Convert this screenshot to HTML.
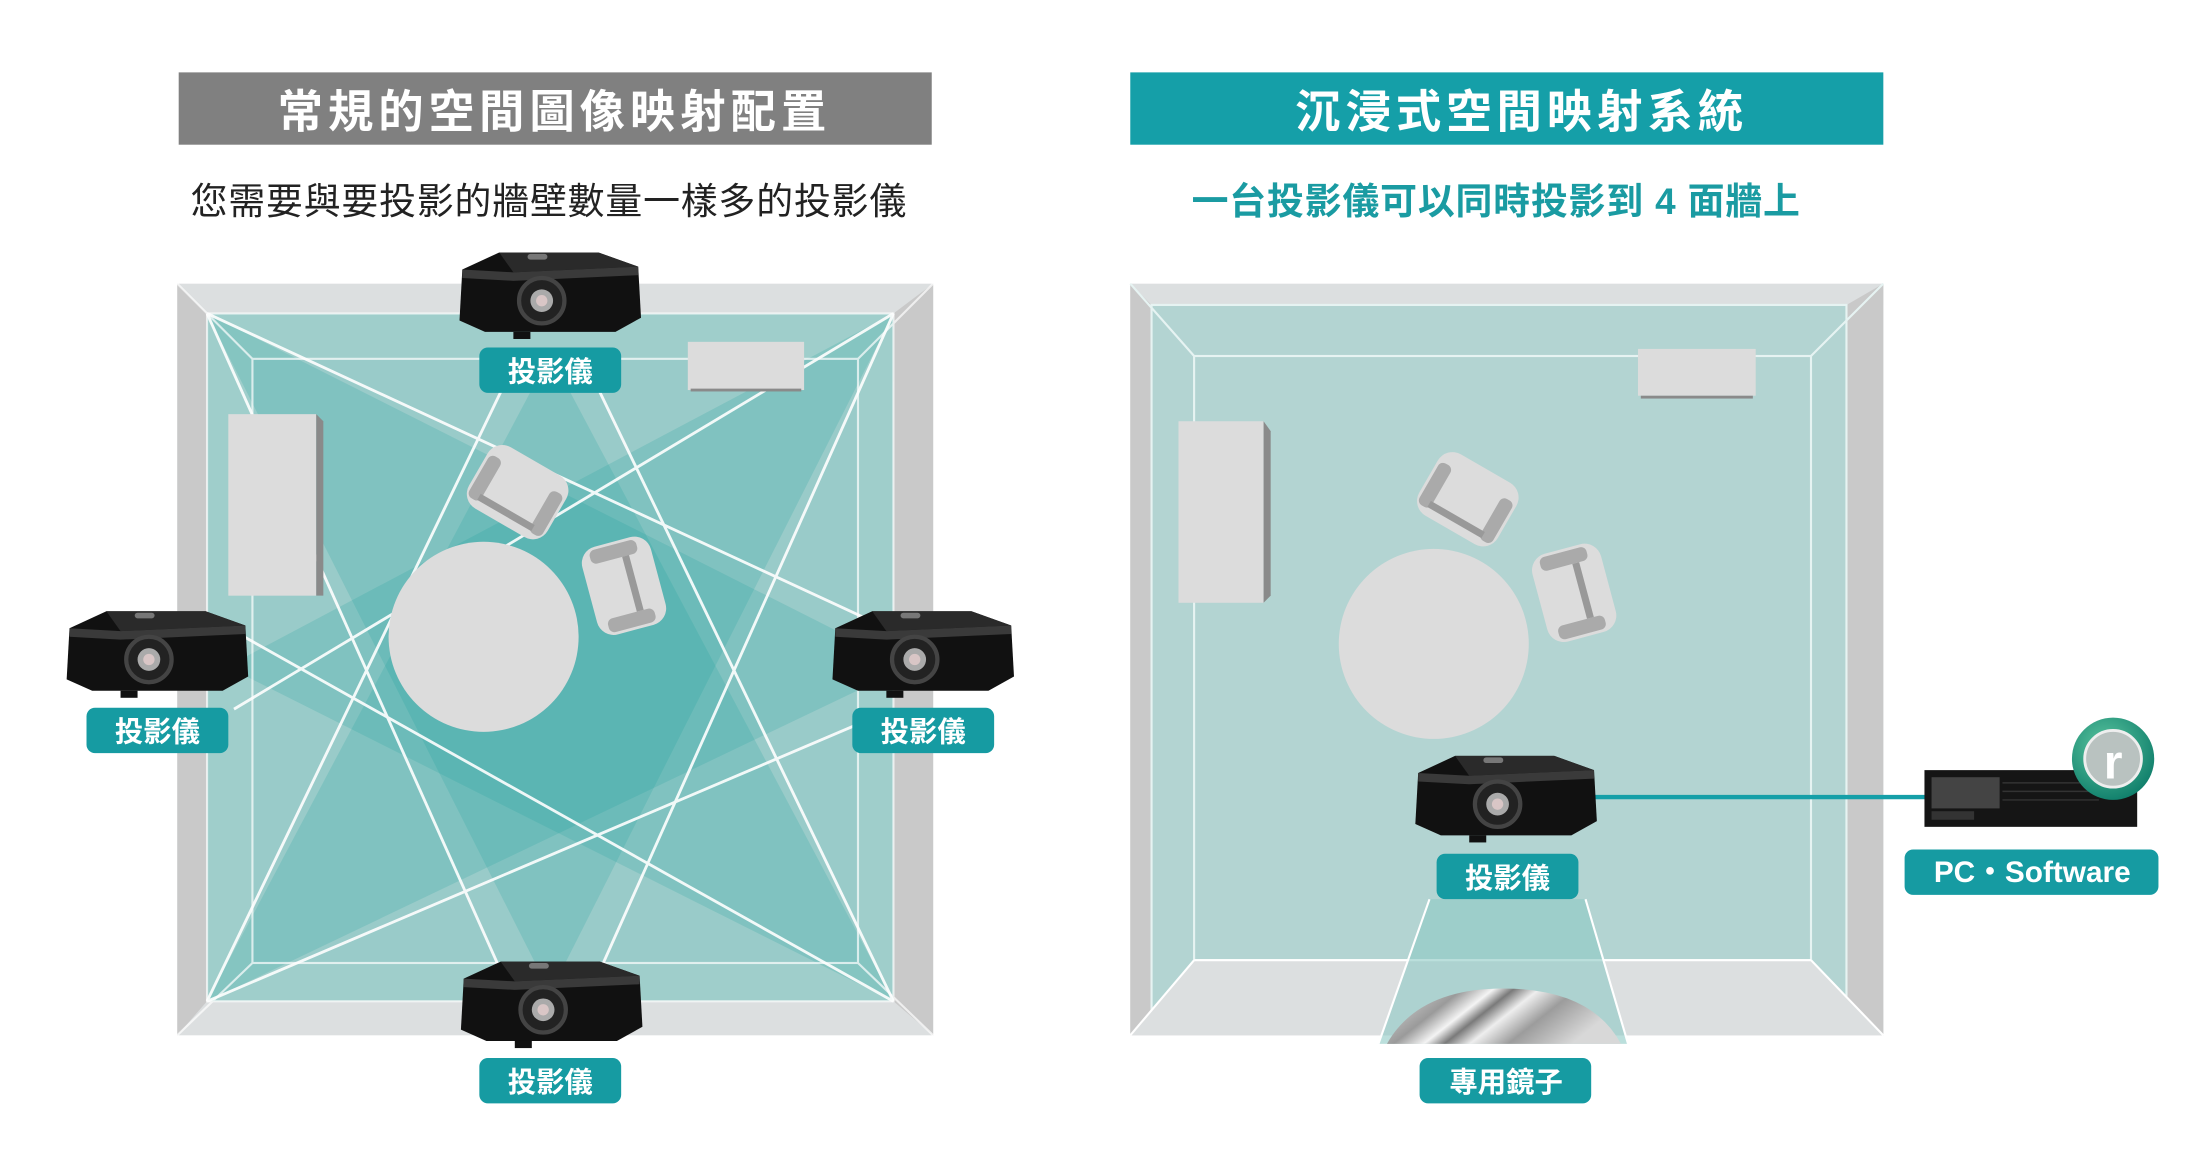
<!DOCTYPE html>
<html><head><meta charset="utf-8"><style>
html,body{margin:0;padding:0;background:#fff;}
svg{display:block;}
text{font-family:"Liberation Sans","Noto Sans CJK TC",sans-serif;}
</style></head><body>
<svg width="2201" height="1163" viewBox="0 0 1552 820" xmlns="http://www.w3.org/2000/svg">
<defs>
<linearGradient id="mir" x1="0" y1="0" x2="1" y2="0.3">
<stop offset="0" stop-color="#e8e8e8"/><stop offset="0.3" stop-color="#9a9a9a"/><stop offset="0.42" stop-color="#f4f4f4"/><stop offset="0.5" stop-color="#7a7a7a"/><stop offset="0.6" stop-color="#eeeeee"/><stop offset="0.75" stop-color="#9c9c9c"/><stop offset="1" stop-color="#d8d8d8"/>
</linearGradient>
<radialGradient id="logo" cx="0.4" cy="0.35" r="0.7"><stop offset="0" stop-color="#5cc6a0"/><stop offset="1" stop-color="#0e7d6a"/></radialGradient>
<g id="proj">
<path d="M4 14 L30 2 L100 2 L128 12 L130 48 L112 58 L20 58 L2 50 Z" fill="#111"/>
<path d="M30 2 L100 2 L128 12 L40 16 Z" fill="#2a2a2a"/>
<path d="M4 14 L40 16 L128 12 L128 18 L40 22 L4 20 Z" fill="#3a3a3a"/>
<circle cx="60" cy="36" r="16" fill="#222" stroke="#444" stroke-width="3"/>
<circle cx="60" cy="36" r="8" fill="#aaa"/><circle cx="60" cy="36" r="4" fill="#d9c6c6"/>
<rect x="50" y="3" width="14" height="4" rx="2" fill="#777"/>
<rect x="40" y="58" width="12" height="5" fill="#111"/>
</g>
</defs>

<!-- LEFT PANEL -->
<rect x="126" y="51" width="531" height="51" fill="#808080"/>
<text x="391" y="90" text-anchor="middle" font-size="32" font-weight="bold" fill="#fff" letter-spacing="3.5">常規的空間圖像映射配置</text>
<text x="387" y="151" text-anchor="middle" font-size="26" fill="#222" letter-spacing="0.6">您需要與要投影的牆壁數量一樣多的投影儀</text>

<rect x="125" y="200" width="533" height="530" fill="#dcdfe0"/>
<polygon points="125,200 146,221 146,706 125,730" fill="#c9c9c9"/>
<polygon points="658,200 630,221 630,706 658,730" fill="#c9c9c9"/>
<rect x="146" y="221" width="484" height="485" fill="#bfd9d7"/>
<rect x="178" y="253" width="427" height="426" fill="#b8d6d4"/>
<g fill="#17a29b" fill-opacity="0.19">
<polygon points="388,250 146,706 630,706"/>
<polygon points="388,700 146,221 630,221"/>
<polygon points="160,470 630,221 630,706"/>
<polygon points="640,470 146,221 146,706"/>
</g>
<g stroke="#fff" stroke-width="2" fill="none" opacity="0.9">
<polyline points="146,706 360,262"/><polyline points="630,706 416,262"/>
<polyline points="146,221 360,700"/><polyline points="630,221 416,700"/>
<polyline points="630,221 165,500"/><polyline points="630,706 165,445"/>
<polyline points="146,221 630,445"/><polyline points="146,706 630,500"/>
</g>
<g stroke="#fff" stroke-width="1.5" fill="none" opacity="0.7">
<rect x="146" y="221" width="484" height="485"/>
<rect x="178" y="253" width="427" height="426"/>
<line x1="125" y1="200" x2="178" y2="253"/><line x1="658" y1="200" x2="605" y2="253"/>
<line x1="125" y1="730" x2="178" y2="679"/><line x1="658" y1="730" x2="605" y2="679"/>
</g>
<rect x="161" y="292" width="62" height="128" fill="#dcdcdc"/><polygon points="223,292 228,297 228,420 223,420" fill="#8a8a8a"/>
<rect x="485" y="241" width="82" height="34" fill="#dcdcdc"/><rect x="487" y="274" width="78" height="2" fill="#8a8a8a"/>
<circle cx="341" cy="449" r="67" fill="#dcdcdc"/>
<g transform="translate(365,347) rotate(30)"><rect x="-32" y="-25" width="64" height="50" rx="12" fill="#dcdcdc"/><rect x="-30" y="-14" width="10" height="34" rx="4" fill="#aaa"/><rect x="20" y="-14" width="10" height="34" rx="4" fill="#aaa"/><rect x="-22" y="14" width="44" height="5" fill="#999"/></g>
<g transform="translate(440,413) rotate(-15)"><rect x="-25" y="-32" width="50" height="64" rx="12" fill="#dcdcdc"/><rect x="-18" y="-30" width="34" height="10" rx="4" fill="#aaa"/><rect x="-18" y="20" width="34" height="10" rx="4" fill="#aaa"/><rect x="4" y="-20" width="5" height="40" fill="#999"/></g>

<use href="#proj" x="322" y="176"/>
<use href="#proj" x="45" y="429"/>
<use href="#proj" x="585" y="429"/>
<use href="#proj" x="323" y="676"/>
<g font-size="20" font-weight="bold" fill="#fff" text-anchor="middle">
<rect x="338" y="245" width="100" height="32" rx="6" fill="#169ba2"/><text x="388" y="269">投影儀</text>
<rect x="61" y="499" width="100" height="32" rx="6" fill="#169ba2"/><text x="111" y="523">投影儀</text>
<rect x="601" y="499" width="100" height="32" rx="6" fill="#169ba2"/><text x="651" y="523">投影儀</text>
<rect x="338" y="746" width="100" height="32" rx="6" fill="#169ba2"/><text x="388" y="770">投影儀</text>
</g>

<!-- RIGHT PANEL -->
<rect x="797" y="51" width="531" height="51" fill="#159fa8"/>
<text x="1073" y="90" text-anchor="middle" font-size="32" font-weight="bold" fill="#fff" letter-spacing="3.5">沉浸式空間映射系統</text>
<text x="1055" y="151" text-anchor="middle" font-size="26" font-weight="bold" fill="#1a9ba2" letter-spacing="0.6">一台投影儀可以同時投影到 4 面牆上</text>

<rect x="797" y="200" width="531" height="530" fill="#dcdfe0"/>
<polygon points="797,200 812,215 812,712 797,730" fill="#c9c9c9"/>
<polygon points="1328,200 1302,215 1302,712 1328,730" fill="#c9c9c9"/>
<rect x="812" y="215" width="490" height="497" fill="#b3d4d2"/>
<g stroke="#e6f3f2" stroke-width="1.5" fill="none">
<rect x="812" y="215" width="490" height="497"/>
<rect x="842" y="251" width="435" height="426"/>
<line x1="797" y1="200" x2="842" y2="251"/><line x1="1328" y1="200" x2="1277" y2="251"/>
</g>
<polygon points="797,730 842,677 1277,677 1328,730" fill="#dcdfe0"/>
<g stroke="#fff" stroke-width="1.5"><line x1="797" y1="730" x2="842" y2="677"/><line x1="1328" y1="730" x2="1277" y2="677"/><line x1="842" y1="677" x2="1277" y2="677"/></g>
<polygon points="1008,634 1118,634 1148,736 972,736" fill="#8ec9c5" fill-opacity="0.6"/>
<g stroke="#fff" stroke-width="1.5"><line x1="1008" y1="634" x2="972" y2="736"/><line x1="1118" y1="634" x2="1148" y2="736"/></g>
<path d="M978 736 Q1000 697 1060 697 Q1122 697 1143 736 Z" fill="url(#mir)"/>

<rect x="831" y="297" width="60" height="128" fill="#dcdcdc"/><polygon points="891,297 896,304 896,420 891,425" fill="#8a8a8a"/>
<rect x="1155" y="246" width="83" height="33" fill="#dcdcdc"/><rect x="1157" y="279" width="79" height="2" fill="#8a8a8a"/>
<circle cx="1011" cy="454" r="67" fill="#dcdcdc"/>
<g transform="translate(1035,352) rotate(30)"><rect x="-32" y="-25" width="64" height="50" rx="12" fill="#dcdcdc"/><rect x="-30" y="-14" width="10" height="34" rx="4" fill="#aaa"/><rect x="20" y="-14" width="10" height="34" rx="4" fill="#aaa"/><rect x="-22" y="14" width="44" height="5" fill="#999"/></g>
<g transform="translate(1110,418) rotate(-15)"><rect x="-25" y="-32" width="50" height="64" rx="12" fill="#dcdcdc"/><rect x="-18" y="-30" width="34" height="10" rx="4" fill="#aaa"/><rect x="-18" y="20" width="34" height="10" rx="4" fill="#aaa"/><rect x="4" y="-20" width="5" height="40" fill="#999"/></g>

<line x1="1124" y1="562" x2="1358" y2="562" stroke="#159fa8" stroke-width="3"/>
<use href="#proj" x="996" y="531"/>
<rect x="1357" y="543" width="150" height="40" fill="#151515"/>
<rect x="1362" y="548" width="48" height="22" fill="#444"/><rect x="1362" y="572" width="30" height="6" fill="#333"/>
<g stroke="#333" stroke-width="1"><line x1="1412" y1="552" x2="1480" y2="552"/><line x1="1412" y1="558" x2="1480" y2="558"/><line x1="1412" y1="564" x2="1480" y2="564"/></g>
<circle cx="1490" cy="535" r="29" fill="url(#logo)"/>
<circle cx="1490" cy="535" r="20" fill="#b9c2c0" stroke="#eee" stroke-width="2"/>
<text x="1490" y="549" text-anchor="middle" font-size="34" font-weight="bold" fill="#fff">r</text>

<g font-size="20" font-weight="bold" fill="#fff" text-anchor="middle">
<rect x="1013" y="602" width="100" height="32" rx="6" fill="#169ba2"/><text x="1063" y="626">投影儀</text>
<rect x="1001" y="746" width="121" height="32" rx="6" fill="#169ba2"/><text x="1062" y="770">專用鏡子</text>
<rect x="1343" y="599" width="179" height="32" rx="6" fill="#169ba2"/><text x="1433" y="622" font-size="21">PC・Software</text>
</g>
</svg>
</body></html>
